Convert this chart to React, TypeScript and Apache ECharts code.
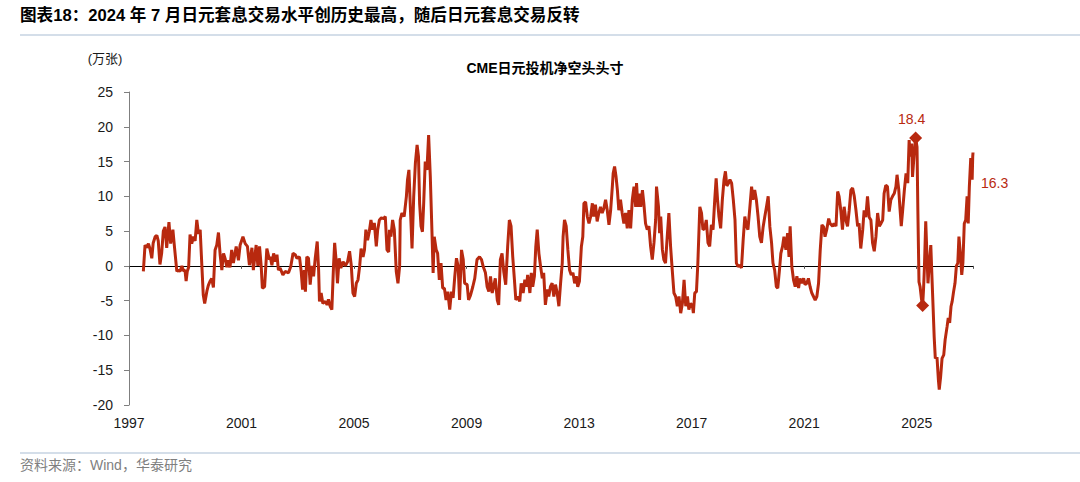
import React, { useEffect, useRef } from "react";
import * as echarts from "echarts";

// CME JPY speculative net short positions (10k contracts), [year, value]
const era1997: [number, number][] = [
  [1997.51,-0.8],[1997.57,3.0],[1997.63,2.6],[1997.69,3.2],[1997.75,2.4],[1997.81,1.1],[1997.86,3.3],[1997.93,4.2],[1997.99,4.4],
  [1998.04,3.6],[1998.10,0.2],[1998.16,1.8],[1998.22,5.0],[1998.28,5.6],[1998.34,2.6],[1998.38,4.5],[1998.42,6.3],[1998.48,3.2],[1998.56,5.2],[1998.61,3.0],[1998.70,-0.8],[1998.75,-0.6],[1998.81,-0.8],[1998.88,0],[1998.93,-0.7],[1998.99,-0.6],
  [1999.03,-2.2],[1999.07,-0.8],[1999.12,-0.2],[1999.17,4.5],[1999.23,3.2],[1999.29,4.2],[1999.35,3.6],[1999.41,6.6],[1999.47,4.6],[1999.53,5.2],[1999.59,0],[1999.64,-4.2],[1999.69,-5.4],[1999.77,-3.6],[1999.82,-2.8],[1999.88,-2.2],[1999.94,-1.8],
  [2000.00,-3.1],[2000.06,2.3],[2000.12,3.0],[2000.18,4.8],[2000.24,1.6],[2000.30,-0.6],[2000.36,1.8],[2000.42,1.0],[2000.48,-0.2],[2000.53,0.8],[2000.59,-0.2],[2000.65,2.3],[2000.71,0.4],[2000.81,2.8],[2000.89,0.8],[2000.95,3.0],
  [2001.05,4.2],[2001.13,3.2],[2001.21,2.8],[2001.28,0.1],[2001.37,2.6],[2001.42,-0.6],[2001.52,3.0],[2001.58,0],[2001.64,2.8],[2001.70,-0.1],[2001.74,-3.2],[2001.82,-3.0],[2001.90,2.5],[2001.99,0.9],
];

const era2002: [number, number][] = [
  [2002.02,1.3],[2002.08,0.1],[2002.14,1.8],[2002.20,0.6],[2002.26,1.6],[2002.31,-0.6],[2002.37,-0.3],[2002.47,-1.3],[2002.55,-0.8],[2002.67,-1.0],[2002.75,-0.1],[2002.83,1.8],[2002.91,1.6],[2002.97,1.1],
  [2003.06,1.3],[2003.12,-0.8],[2003.17,-3.4],[2003.23,-0.6],[2003.27,-3.7],[2003.32,1.3],[2003.38,1.1],[2003.44,-2.7],[2003.50,0],[2003.56,-1.5],[2003.62,1.1],[2003.69,3.5],[2003.74,-0.6],[2003.77,-5.1],[2003.83,-3.9],[2003.89,-5.4],[2003.98,-5.1],
  [2004.04,-5.6],[2004.09,-4.8],[2004.15,-5.8],[2004.21,-6.3],[2004.27,0],[2004.31,3.3],[2004.37,0.4],[2004.41,-2.5],[2004.47,1.1],[2004.53,-0.3],[2004.61,0.6],[2004.69,0],[2004.77,0.6],[2004.84,2.1],[2004.90,0.1],[2004.96,-3.9],
  [2005.02,-4.4],[2005.08,-2.5],[2005.14,-2.0],[2005.20,0],[2005.25,2.5],[2005.32,1.3],[2005.37,2.3],[2005.42,5.2],[2005.48,3.7],[2005.54,4.9],[2005.60,6.6],[2005.66,5.2],[2005.72,6.2],[2005.79,2.8],[2005.84,5.2],[2005.90,6.6],[2005.97,6.9],
  [2006.05,6.8],[2006.11,7.1],[2006.17,2.3],[2006.23,2.0],[2006.26,5.2],[2006.31,4.2],[2006.37,6.6],[2006.43,5.2],[2006.47,1.8],[2006.50,-0.8],[2006.56,-2.5],[2006.62,0],
];

const era2006: [number, number][] = [
  [2006.64,6.6],[2006.70,7.6],[2006.78,7.1],[2006.86,10],[2006.90,12.4],[2006.95,13.8],
  [2007.00,8.5],[2007.06,2.5],[2007.12,10],[2007.18,14.8],[2007.24,17.4],[2007.29,15.7],[2007.33,9],[2007.38,5.7],[2007.43,4.9],[2007.47,8.5],[2007.53,15],[2007.59,13.8],[2007.65,18.8],[2007.71,12.8],[2007.77,4.7],[2007.81,-1],[2007.85,4.2],[2007.92,2.3],[2007.97,1.8],
  [2008.03,-2],[2008.09,0.4],[2008.15,-3.2],[2008.21,-3.2],[2008.27,-4.9],[2008.33,-3.7],[2008.40,-6.3],[2008.46,-3.7],[2008.52,-4.6],[2008.58,-1.5],[2008.64,1.1],[2008.70,-0.1],[2008.75,-4.9],[2008.82,2.3],[2008.88,0.9],[2008.93,-2.5],
  [2009.02,-2.7],[2009.07,-4.9],[2009.14,-4.2],[2009.22,-3.0],[2009.29,-1.8],[2009.37,0.9],[2009.46,1.3],[2009.53,0.9],[2009.59,-0.1],[2009.67,-1.0],[2009.73,-3],[2009.79,-3.7],[2009.85,-1.5],[2009.91,-3.9],[2009.96,-3.0],
  [2010.02,-1.8],[2010.09,-4.9],[2010.14,-5.6],[2010.20,0.9],[2010.26,1.8],[2010.32,-0.8],[2010.39,-2.7],[2010.46,2.8],[2010.52,6.6],[2010.58,5.7],[2010.64,1.3],[2010.70,-2],[2010.75,-4.9],[2010.82,-4.4],[2010.89,-5.1],[2010.94,-2.5],
  [2011.01,-3.9],[2011.07,-2.0],[2011.13,-3.0],[2011.17,-1.3],[2011.25,-3.9],[2011.30,-1.0],[2011.35,-3.0],[2011.41,-1.5],[2011.46,2.8],[2011.51,5.2],[2011.57,1.8],
];

const era2011: [number, number][] = [
  [2011.63,-0.1],[2011.69,-1.8],[2011.74,-1.0],[2011.80,-5.6],[2011.87,-3.4],[2011.92,-4.4],[2011.98,-3.0],
  [2012.04,-2.5],[2012.10,-4.4],[2012.16,-2.7],[2012.22,-3.9],[2012.28,-5.8],[2012.34,-2.5],[2012.40,0.4],[2012.43,4.2],[2012.48,6.6],[2012.54,5.7],[2012.60,2.3],[2012.66,-0.6],[2012.72,-1.3],[2012.78,-1.0],[2012.84,-2.5],[2012.90,-1.5],[2012.95,-3.0],
  [2013.01,-2.2],[2013.08,2.8],[2013.13,4.2],[2013.17,9.0],[2013.23,9.2],[2013.29,7.1],[2013.35,6.1],[2013.41,7.1],[2013.47,9.0],[2013.52,7.1],[2013.58,8.8],[2013.64,6.4],[2013.70,7.6],[2013.76,8.5],[2013.82,7.6],[2013.88,8.3],[2013.94,9.5],
  [2014.00,8.0],[2014.06,5.9],[2014.12,8.0],[2014.18,11.4],[2014.21,13.3],[2014.26,14.3],[2014.31,12.9],[2014.36,10.9],[2014.41,8.0],[2014.47,9.5],[2014.53,7.6],[2014.59,6.1],[2014.65,7.6],[2014.71,5.4],[2014.77,8.0],[2014.83,5.4],[2014.89,9.5],[2014.95,11.4],
  [2015.01,8.5],[2015.04,11.9],[2015.09,8.5],[2015.14,10.4],[2015.19,8.5],[2015.25,10.9],[2015.30,9.0],[2015.36,6.1],[2015.42,5.2],[2015.48,5.7],[2015.54,2.8],[2015.60,0.9],[2015.66,3.3],[2015.72,6.6],[2015.75,11.4],[2015.82,8.5],[2015.86,4.7],[2015.90,7.1],[2015.96,2.3],
  [2016.01,0.9],[2016.07,0.4],[2016.14,4.7],[2016.19,7.6],[2016.25,2.8],[2016.31,-0.6],[2016.37,-3.9],[2016.43,-4.4],[2016.49,-5.8],[2016.55,-4.4],[2016.61,-6.8],[2016.67,-5.4],[2016.73,-2.0],[2016.79,-5.8],[2016.85,-4.4],[2016.90,-6.3],
];

const era2017: [number, number][] = [
  [2016.96,-5.4],[2017.03,-5.8],[2017.06,-6.8],[2017.11,-3.9],[2017.17,-3.7],[2017.22,0.4],[2017.29,8.5],[2017.35,7.6],[2017.40,5.2],[2017.46,5.4],[2017.52,6.6],[2017.58,3.3],[2017.64,2.8],[2017.70,5.9],[2017.76,5.2],[2017.82,9.5],[2017.87,12.6],[2017.92,9.5],[2017.97,7.1],
  [2018.03,5.4],[2018.09,9.5],[2018.15,12.4],[2018.20,13.6],[2018.25,11.5],[2018.31,11.9],[2018.36,12.4],[2018.42,11.9],[2018.48,9.5],[2018.54,6.6],[2018.59,0.4],[2018.65,-0.1],[2018.71,0.1],[2018.77,-0.3],[2018.83,3.7],[2018.89,7.1],[2018.95,5.7],
  [2019.00,5.2],[2019.06,8.0],[2019.13,11.4],[2019.18,9.5],[2019.24,10.9],[2019.30,9.5],[2019.36,7.1],[2019.42,4.2],[2019.48,3.3],[2019.54,5.6],[2019.60,7.1],[2019.66,8.5],[2019.72,10],[2019.78,5.6],[2019.84,3.3],[2019.89,0.4],[2019.95,-0.6],
  [2020.01,-3],[2020.06,-3.2],[2020.12,-0.6],[2020.17,1.8],[2020.23,2.8],[2020.28,4.2],[2020.35,2.3],[2020.41,4.7],[2020.46,1.3],[2020.50,5.7],[2020.56,-0.1],[2020.62,-2.0],[2020.68,-3.0],[2020.74,-1.5],[2020.80,-3.2],[2020.85,-1.8],[2020.91,-2.5],[2020.98,-1.8],
  [2021.03,-2.7],[2021.09,-2.5],[2021.15,-1.8],[2021.21,-3.0],[2021.27,-3.9],[2021.33,-4.4],[2021.39,-4.9],[2021.45,-4.4],[2021.51,-2.5],[2021.57,2.3],[2021.63,5.9],[2021.69,5.6],[2021.74,4.2],[2021.80,5.2],[2021.87,6.8],[2021.92,6.1],
];

const era2022: [number, number][] = [
  [2022.01,5.7],[2022.06,6.1],[2022.13,5.7],[2022.19,10.7],[2022.24,10.0],[2022.30,8.0],[2022.36,5.2],[2022.42,8.5],[2022.48,6.6],[2022.54,5.7],[2022.60,8.0],[2022.66,10.9],[2022.72,11.2],[2022.78,10.0],[2022.84,8.0],[2022.90,5.7],[2022.95,6.1],
  [2023.01,2.5],[2023.08,5.2],[2023.13,8.0],[2023.19,7.0],[2023.25,10.0],[2023.31,7.0],[2023.37,6.6],[2023.43,3.3],[2023.49,2.1],[2023.55,4.2],[2023.61,7.6],[2023.67,5.7],[2023.73,6.1],[2023.79,6.6],[2023.84,10.4],[2023.90,11.6],[2023.96,11.4],
  [2024.02,7.8],[2024.08,9.5],[2024.14,10.0],[2024.20,10.4],[2024.26,11.4],[2024.30,13.1],[2024.36,11.0],[2024.40,8.5],[2024.45,5.7],[2024.50,8.0],[2024.56,10.9],[2024.62,13.3],[2024.68,11.9],[2024.73,18.1],[2024.77,15.7],[2024.82,17.6],[2024.85,12.8],[2024.91,16.2],[2024.96,18.4],
  [2025.01,17.1],[2025.04,8.0],[2025.08,-2.3],[2025.12,-3.0],[2025.17,-4.8],[2025.21,-5.7],[2025.24,-3.5],[2025.27,-0.6],[2025.32,6.4],[2025.36,1.8],[2025.40,-2.5],[2025.44,-0.1],[2025.50,3.0],[2025.54,-1.5],[2025.58,-5.8],[2025.62,-10.2],[2025.66,-13.3],[2025.72,-13.1],[2025.77,-16.4],[2025.80,-17.8],[2025.85,-15.9],[2025.90,-13.3],[2025.96,-12.8],
  [2026.01,-10.6],[2026.08,-8.7],[2026.12,-7.5],[2026.17,-8.2],[2026.22,-5.8],[2026.26,-5.1],[2026.31,-3.7],[2026.36,-2.5],[2026.41,0],[2026.46,0.4],[2026.50,4.2],[2026.55,1.8],[2026.60,-1.3],[2026.64,0.4],[2026.69,6.1],[2026.74,6.6],[2026.79,10],[2026.83,6.1],[2026.87,11.4],[2026.92,15.5],[2026.95,15.0],[2026.97,12.4],[2026.99,15.7],[2027.00,16.3],
];

// highlighted points: record high (labelled), post-unwind low, latest value (labelled)
const peakPoint: [number, number] = [2024.96, 18.4];
const unwindPoint: [number, number] = [2025.21, -5.7];
const lastPoint: [number, number] = [2027.0, 16.3];

const yTicks = { min: -20, max: 25, step: 5 };
const xTicks = { min: 1997, max: 2027, step: 4 };

const TITLE = "图表18：2024 年 7 月日元套息交易水平创历史最高，随后日元套息交易反转";
const CHART_TITLE = "CME日元投机净空头头寸";
const UNIT = "(万张)";
const SOURCE = "资料来源：Wind，华泰研究";

const RED = "#B8290F";
const FONT = "'Liberation Sans', Arial, 'Noto Sans CJK SC', sans-serif";

export default function App() {
  const ref = useRef<HTMLDivElement>(null);
  useEffect(() => {
    document.body.style.margin = "0";
    if (!ref.current) return;
    const chart = echarts.init(ref.current, undefined, { renderer: "svg" });
    const series = [...era1997, ...era2002, ...era2006, ...era2011, ...era2017, ...era2022];
    chart.setOption({
      animation: false,
      backgroundColor: "#ffffff",
      textStyle: { fontFamily: FONT },
      grid: { left: 129, right: 107, top: 92, bottom: 77, containLabel: false },
      xAxis: [
        {
          type: "value",
          min: xTicks.min,
          max: xTicks.max,
          interval: xTicks.step,
          position: "bottom",
          axisLine: { show: false, onZero: false },
          axisTick: { show: false },
          splitLine: { show: false },
          axisLabel: {
            color: "#1a1a1a",
            fontSize: 14,
            fontFamily: FONT,
            margin: 11,
            showMaxLabel: false,
            formatter: (v: number) => String(Math.round(v)),
          },
        },
        {
          type: "value",
          min: xTicks.min,
          max: xTicks.max,
          interval: xTicks.step,
          position: "bottom",
          axisLine: { show: true, onZero: true, lineStyle: { color: "#000000", width: 1 } },
          axisTick: { show: true, length: 3, lineStyle: { color: "#555555" } },
          splitLine: { show: false },
          axisLabel: { show: false },
        },
      ],
      yAxis: {
        type: "value",
        min: yTicks.min,
        max: yTicks.max,
        interval: yTicks.step,
        axisLine: { show: true, lineStyle: { color: "#7f7f7f", width: 1 } },
        axisTick: { show: true, length: 5, lineStyle: { color: "#7f7f7f" } },
        splitLine: { show: false },
        axisLabel: { color: "#1a1a1a", fontSize: 14, fontFamily: FONT, margin: 16 },
      },
      graphic: [
        {
          type: "text",
          left: 20,
          top: 7,
          style: { text: TITLE, fontSize: 16.6, fontWeight: "bold", fill: "#000000", fontFamily: FONT },
        },
        { type: "line", shape: { x1: 20, y1: 35, x2: 1080, y2: 35 }, style: { stroke: "#A9BED3", lineWidth: 1.2 } },
        {
          type: "text",
          x: 105,
          y: 58,
          style: { text: UNIT, fontSize: 13, fill: "#1a1a1a", fontFamily: FONT, align: "center", verticalAlign: "middle" },
        },
        {
          type: "text",
          x: 545,
          y: 68,
          style: { text: CHART_TITLE, fontSize: 14, fontWeight: "bold", fill: "#000000", fontFamily: FONT, align: "center", verticalAlign: "middle" },
        },
        { type: "line", shape: { x1: 20, y1: 453, x2: 1080, y2: 453 }, style: { stroke: "#A9BED3", lineWidth: 1.2 } },
        {
          type: "text",
          left: 20,
          top: 458,
          style: { text: SOURCE, fontSize: 14, fill: "#7f7f7f", fontFamily: FONT },
        },
      ],
      series: [
        {
          type: "line",
          data: series,
          showSymbol: false,
          symbol: "none",
          lineStyle: { color: RED, width: 3 },
          itemStyle: { color: RED },
          z: 3,
        },
        {
          type: "scatter",
          data: [
            {
              value: peakPoint,
              label: {
                show: true,
                position: "top",
                distance: 5,
                offset: [-4, 0],
                formatter: String(peakPoint[1]),
                color: RED,
                fontSize: 14,
                fontFamily: FONT,
              },
            },
            { value: unwindPoint },
          ],
          symbol: "diamond",
          symbolSize: 13,
          itemStyle: { color: RED, opacity: 1 },
          z: 4,
        },
        {
          type: "scatter",
          data: [
            {
              value: lastPoint,
              label: {
                show: true,
                position: "right",
                distance: 8,
                offset: [0, 30],
                formatter: String(lastPoint[1]),
                color: RED,
                fontSize: 14,
                fontFamily: FONT,
              },
            },
          ],
          symbolSize: 0.1,
          itemStyle: { color: RED, opacity: 1 },
          z: 4,
        },
      ],
    });
    return () => chart.dispose();
  }, []);
  return <div ref={ref} style={{ width: 1080, height: 482 }} />;
}
